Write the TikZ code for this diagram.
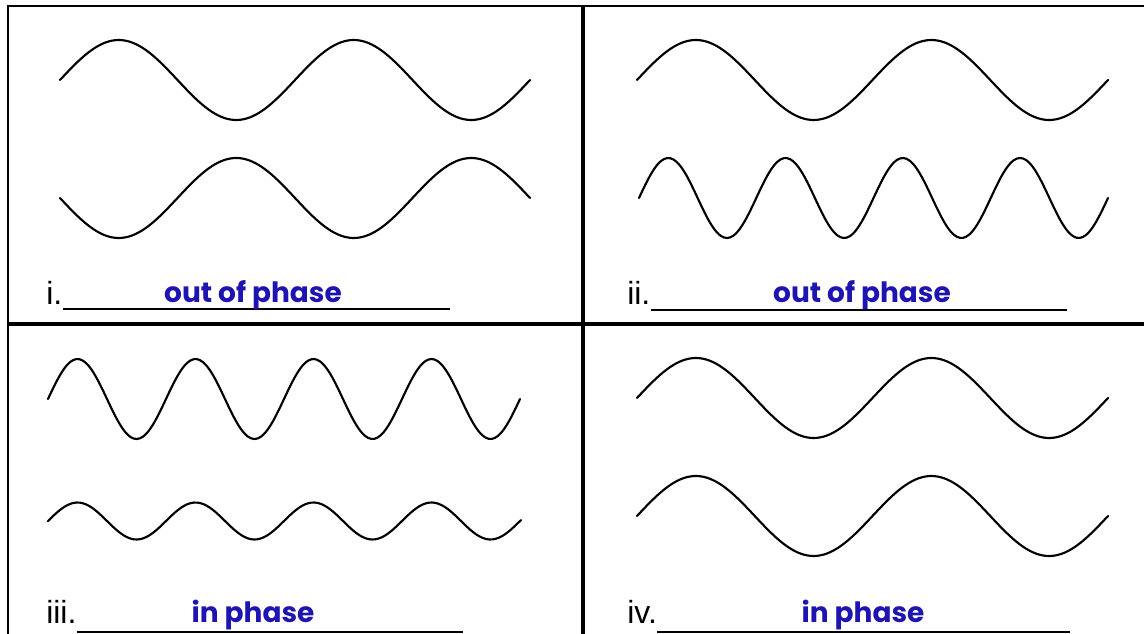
\documentclass[tikz,border=0pt]{standalone}
\usepackage{fontspec}
\setmainfont{Liberation Sans}
\newfontfamily\handfont{Poppins}
\usetikzlibrary{positioning}
\definecolor{answerblue}{RGB}{30,20,175}

\begin{document}
\begin{tikzpicture}[
    x=0.75pt, y=-0.75pt, % one unit = one pixel of the sheet, y downwards
    frame/.style={line width=2.2pt}, % Style for the outer border
    divider/.style={line width=3pt}, % Style for the lines between panels
    wave/.style={line width=1.6pt, line join=round, line cap=round}, % Style for the waves
    numlabel/.style={font=\fontsize{24}{24}\selectfont, anchor=base west, inner sep=0pt}, % Style for i., ii., ...
    answer/.style={text=answerblue, font=\handfont\bfseries\fontsize{21}{21}\selectfont, anchor=base, inner sep=0pt}, % Style for the answers
    blank/.style={line width=1pt} % Style for the answer lines
]
    \useasboundingbox (0,0) rectangle (1144,634);

    % --- Grid ---
    \draw[frame] (1144,6) -- (8,6) -- (8,634);
    \draw[divider] (583,6) -- (583,634);
    \draw[divider] (8,324) -- (1144,324);

    % --- Waves: start/end/centre/amplitude/period ---
    \foreach \xs/\xe/\yc/\amp/\per in {
        60/530/80/40/235,        % i, top
        60/530/198/-40/235,      % i, bottom
        637/1108/80/40/235.5,    % ii, top
        639/1108/198/40/117.25,  % ii, bottom
        48/520/399/40/118,       % iii, top
        48/521/521/18.5/118,     % iii, bottom
        637/1108/398/40/235.5,   % iv, top
        637/1108/516/40/235.5}   % iv, bottom
    {
        \draw[wave] plot[domain=\xs:\xe, samples=150, smooth] (\x, {\yc-\amp*sin((\x-\xs)/\per*360)});
    }

    % --- Labels and answer lines ---
    \node[numlabel] (lab1) at (46,305) {i.};
    \node[numlabel] (lab2) at (627,305) {ii.};
    \node[numlabel] (lab3) at (46,623) {iii.};
    \node[numlabel] (lab4) at (627,623) {iv.};

    \coordinate (end1) at (450,309);
    \coordinate (end2) at (1067,310);
    \coordinate (end3) at (463,632);
    \coordinate (end4) at (1070,632);
    \draw[blank] (lab1.base east |- end1) -- (end1);
    \draw[blank] (lab2.base east |- end2) -- (end2);
    \draw[blank] (lab3.base east |- end3) -- (end3);
    \draw[blank] (lab4.base east |- end4) -- (end4);

    \node[answer] (ans1) at (253,302) {out of phase};
    \node[answer] (ans2) at (862,302) {out of phase};
    \node[answer] (ans3) at (253,622) {in phase};
    \node[answer] (ans4) at (863,622) {in phase};

\end{tikzpicture}
\end{document}
